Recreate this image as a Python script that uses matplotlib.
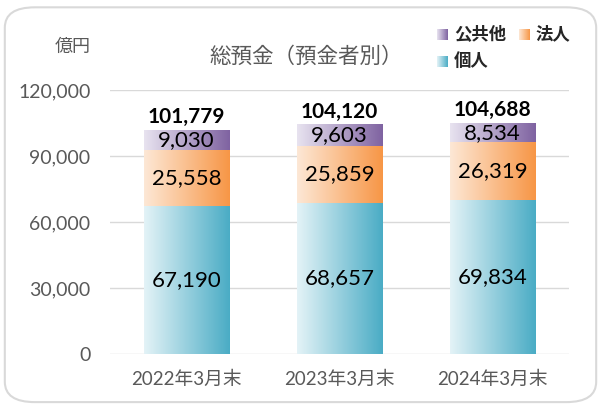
import matplotlib.pyplot as plt
import numpy as np
from matplotlib.patches import FancyBboxPatch
from matplotlib.colors import LinearSegmentedColormap

plt.rcParams['font.family'] = ['Lato', 'Noto Sans CJK JP', 'DejaVu Sans']

categories = ["2022年3月末", "2023年3月末", "2024年3月末"]
kojin = [67190, 68657, 69834]
houjin = [25558, 25859, 26319]
koukyou = [9030, 9603, 8534]
totals = [101779, 104120, 104688]
yticks = [0, 30000, 60000, 90000, 120000]

grads = {
    "個人": ("#e4f3f7", "#4aacc5"),
    "法人": ("#fde8d6", "#f79646"),
    "公共他": ("#e8e3f0", "#7f63a1"),
}

fig = plt.figure(figsize=(6.01, 4.07), dpi=100)
fig.patches.append(FancyBboxPatch((0.008, 0.012), 0.984, 0.97,
                                  boxstyle="round,pad=0,rounding_size=0.05",
                                  transform=fig.transFigure, facecolor="white",
                                  edgecolor="#d9d9d9", linewidth=1.5,
                                  zorder=-10))

ax = fig.add_axes([110 / 601, 1 - 354 / 407, 459 / 601, 264 / 407])
ax.set_facecolor("none")

x = np.arange(len(categories))
w = 0.56
grad = np.linspace(0, 1, 256).reshape(1, -1)

bottom = np.zeros(3)
for name, vals in [("個人", kojin), ("法人", houjin), ("公共他", koukyou)]:
    bars = ax.bar(x, vals, w, bottom=bottom, color="none", zorder=2)
    cmap = LinearSegmentedColormap.from_list(name, grads[name])
    for b in bars:
        x0, y0 = b.get_x(), b.get_y()
        ax.imshow(grad, cmap=cmap, aspect="auto", zorder=2,
                  extent=(x0, x0 + b.get_width(), y0, y0 + b.get_height()))
    for xi, bt, v in zip(x, bottom, vals):
        ax.text(xi, bt + v / 2, f"{v:,}", ha="center", va="center",
                fontsize=16, color="black", zorder=3)
    bottom = bottom + np.array(vals)

for xi, t in zip(x, totals):
    ax.text(xi, t + 1500, f"{t:,}", ha="center", va="bottom",
            fontsize=15, fontweight="bold", color="black", zorder=3)

ax.set_xlim(-0.5, 2.5)
ax.set_ylim(0, 120000)
ax.set_yticks(yticks)
ax.set_yticklabels([f"{v:,}" for v in yticks], fontsize=14, color="#595959")
ax.set_xticks(x)
ax.set_xticklabels(categories, fontsize=13.5, color="#595959")
ax.tick_params(axis="y", length=0, pad=14)
ax.tick_params(axis="x", length=0, pad=12)
ax.grid(axis="y", color="#d9d9d9", linewidth=1, zorder=0)
ax.set_axisbelow(True)
for s in ax.spines.values():
    s.set_visible(False)

fig.text(73 / 601, 1 - 47 / 407, "億円", ha="center", va="center",
         fontsize=13, color="#595959")
fig.text(306 / 601, 1 - 57 / 407, "総預金（預金者別）", ha="center", va="center",
         fontsize=15.5, color="#595959")

# legend
leg = [("公共他", 442, 34), ("法人", 524, 34), ("個人", 442, 61)]
for name, lx, ly in leg:
    lax = fig.add_axes([(lx - 5) / 601, 1 - (ly + 6) / 407, 11 / 601, 11 / 407])
    lax.imshow(grad, cmap=LinearSegmentedColormap.from_list(name, grads[name]),
               aspect="auto")
    lax.axis("off")
    fig.text((lx + 12) / 601, 1 - ly / 407, name, ha="left", va="center",
             fontsize=12.5, fontweight="bold", color="#262626")

fig.savefig("out.png", dpi=100)
